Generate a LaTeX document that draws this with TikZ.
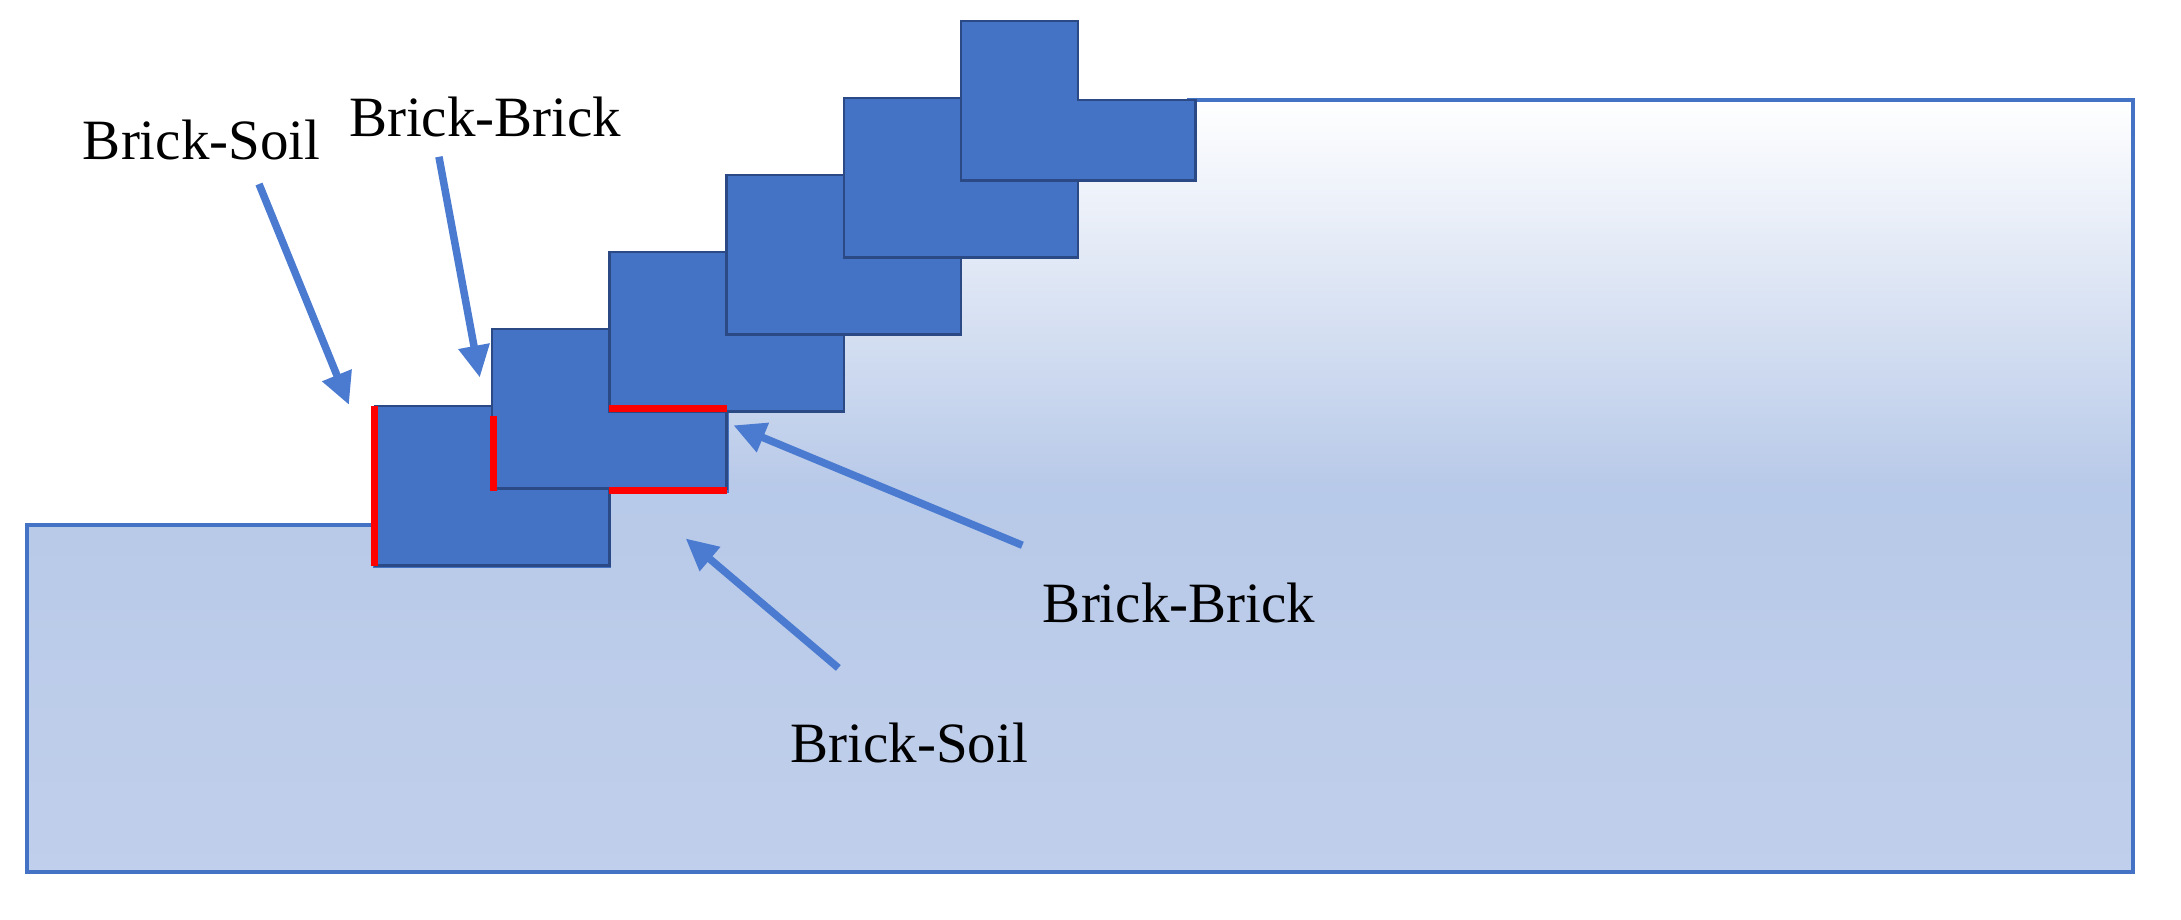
\documentclass[tikz,border=0pt]{standalone}
\usepackage{fontspec}
\setmainfont{Liberation Serif}
\usetikzlibrary{arrows.meta}
\definecolor{brick}{HTML}{4472C4}
\definecolor{brickedge}{HTML}{2B4A85}
\definecolor{soiledge}{HTML}{4472C4}
\definecolor{arr}{HTML}{4A7BD0}
\tikzset{
  brk/.style={fill=brick,draw=brickedge,line width=2.5pt},
  redl/.style={draw=red,line width=7pt},
  lbl/.style={font=\fontsize{57}{64}\selectfont,inner sep=0pt},
  arw/.style={draw=arr,line width=7.5pt,-{Triangle[length=32pt,width=30pt]}}
}
\begin{document}
\begin{tikzpicture}[x=1.363pt,y=-1.363pt]
\useasboundingbox (0,0) rectangle (1600,674.2);
\fill[white] (0,0) rectangle (1600,674.2);
\path[top color=white,bottom color=white!25!brick!45,middle color=brick!38,draw=soiledge,line width=4pt]
 (20,385)--(275,385)--(275,415)--(447,415)--(447,360)--(533,360)--(533,300)--(617,300)--(617,245)--(703,245)--(703,188)--(790,188)--(790,132)--(872,132)--(872,73)--(1565,73)--(1565,640)--(20,640)--cycle;
\foreach \i in {0,...,5}{
  \pgfmathsetmacro{\xo}{275+86*\i}
  \pgfmathsetmacro{\yo}{298-56.5*\i}
  \path[brk] (\xo,\yo) -- ++(86,0) -- ++(0,58) -- ++(86,0) -- ++(0,59) -- ++(-172,0) -- cycle;
}
\draw[redl] (275,298)--(275,415);
\draw[redl] (362,305)--(362,360);
\draw[redl] (447,300)--(533,300);
\draw[redl] (447,360)--(533,360);
\node[lbl] (l1) at (148,103) {Brick-Soil};
\node[lbl] (l2) at (356,86) {Brick-Brick};
\node[lbl] (l3) at (865,442) {Brick-Brick};
\node[lbl] (l4) at (667,545) {Brick-Soil};
\coordinate (t1) at (256,297);
\coordinate (t2) at (352,277);
\coordinate (t3) at (538,312);
\coordinate (t4) at (503,395);
\draw[arw] (190,135) -- (t1);
\draw[arw] (322,115) -- (t2);
\draw[arw] (750,400) -- (t3);
\draw[arw] (615,490) -- (t4);
\end{tikzpicture}
\end{document}
